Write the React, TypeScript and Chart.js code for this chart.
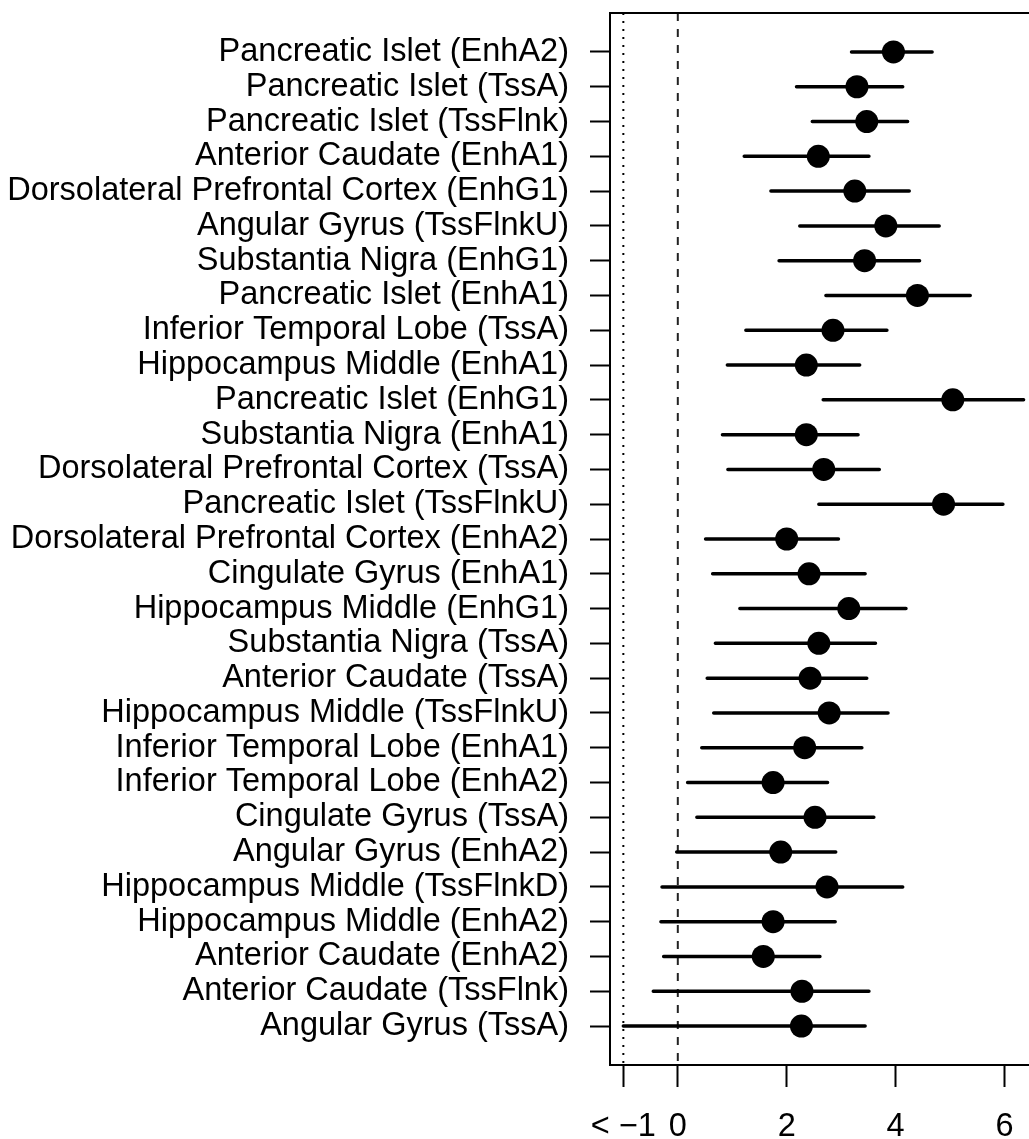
import React, { useEffect, useRef } from "react";
import { Chart, registerables } from "chart.js";

Chart.register(...registerables);

const labels: string[] = [
  "Pancreatic Islet (EnhA2)",
  "Pancreatic Islet (TssA)",
  "Pancreatic Islet (TssFlnk)",
  "Anterior Caudate (EnhA1)",
  "Dorsolateral Prefrontal Cortex (EnhG1)",
  "Angular Gyrus (TssFlnkU)",
  "Substantia Nigra (EnhG1)",
  "Pancreatic Islet (EnhA1)",
  "Inferior Temporal Lobe (TssA)",
  "Hippocampus Middle (EnhA1)",
  "Pancreatic Islet (EnhG1)",
  "Substantia Nigra (EnhA1)",
  "Dorsolateral Prefrontal Cortex (TssA)",
  "Pancreatic Islet (TssFlnkU)",
  "Dorsolateral Prefrontal Cortex (EnhA2)",
  "Cingulate Gyrus (EnhA1)",
  "Hippocampus Middle (EnhG1)",
  "Substantia Nigra (TssA)",
  "Anterior Caudate (TssA)",
  "Hippocampus Middle (TssFlnkU)",
  "Inferior Temporal Lobe (EnhA1)",
  "Inferior Temporal Lobe (EnhA2)",
  "Cingulate Gyrus (TssA)",
  "Angular Gyrus (EnhA2)",
  "Hippocampus Middle (TssFlnkD)",
  "Hippocampus Middle (EnhA2)",
  "Anterior Caudate (EnhA2)",
  "Anterior Caudate (TssFlnk)",
  "Angular Gyrus (TssA)",
];

const estimate: number[] = [
  3.96, 3.29, 3.47, 2.58, 3.25, 3.82, 3.43, 4.4, 2.85, 2.36,
  5.05, 2.36, 2.68, 4.88, 2.0, 2.41, 3.14, 2.59, 2.43, 2.78,
  2.33, 1.75, 2.52, 1.89, 2.74, 1.75, 1.57, 2.28, 2.27,
];

const lower: number[] = [
  3.19, 2.18, 2.47, 1.22, 1.71, 2.24, 1.86, 2.72, 1.25, 0.91,
  2.67, 0.82, 0.92, 2.59, 0.51, 0.64, 1.14, 0.69, 0.54, 0.66,
  0.44, 0.18, 0.35, -0.02, -0.29, -0.31, -0.26, -0.45, -1.0,
];

const upper: number[] = [
  4.67, 4.13, 4.22, 3.51, 4.25, 4.8, 4.44, 5.37, 3.84, 3.34,
  6.35, 3.31, 3.7, 5.97, 2.95, 3.44, 4.19, 3.63, 3.47, 3.86,
  3.38, 2.75, 3.6, 2.9, 4.13, 2.89, 2.61, 3.51, 3.44,
];

const xTickValues: number[] = [-1, 0, 2, 4, 6];
const xTickLabels: string[] = ["< \u22121", "0", "2", "4", "6"];

const FONT = "'Liberation Sans', Arial, Helvetica, sans-serif";

export default function App() {
  const ref = useRef<HTMLCanvasElement | null>(null);

  useEffect(() => {
    if (!ref.current) return;
    const n = labels.length;
    const yMin = 1 - 0.04 * (n - 1);
    const yMax = n + 0.04 * (n - 1);

    const ciData: any[] = [];
    labels.forEach((_, i) => {
      ciData.push({ x: lower[i], y: i + 1 });
      ciData.push({ x: upper[i], y: i + 1 });
      ciData.push({ x: null, y: null });
    });

    const boxPlugin = {
      id: "box",
      afterDraw(chart: any) {
        const { ctx, chartArea } = chart;
        ctx.save();
        ctx.strokeStyle = "#000";
        ctx.lineWidth = 2;
        ctx.strokeRect(
          chartArea.left,
          chartArea.top,
          chartArea.right - chartArea.left,
          chartArea.bottom - chartArea.top
        );
        ctx.restore();
      },
    };

    const chart = new Chart(ref.current, {
      type: "scatter",
      data: {
        datasets: [
          {
            data: estimate.map((v, i) => ({ x: v, y: i + 1 })),
            pointRadius: 11.5,
            pointBackgroundColor: "#000",
            pointBorderWidth: 0,
            showLine: false,
            order: 0,
          },
          {
            data: ciData,
            showLine: true,
            spanGaps: false,
            borderColor: "#000",
            borderWidth: 3.5,
            borderCapStyle: "round",
            pointRadius: 0,
            order: 1,
          },
          {
            data: [
              { x: -1, y: yMin },
              { x: -1, y: yMax },
            ],
            showLine: true,
            borderColor: "#000",
            borderWidth: 2,
            borderDash: [2, 6],
            pointRadius: 0,
            order: 2,
          },
          {
            data: [
              { x: 0, y: yMin },
              { x: 0, y: yMax },
            ],
            showLine: true,
            borderColor: "#222",
            borderWidth: 2,
            borderDash: [8, 8],
            pointRadius: 0,
            order: 2,
          },
        ] as any,
      },
      options: {
        responsive: false,
        animation: false,
        events: [],
        layout: { padding: { top: 13, left: 0, right: 0, bottom: 0 } },
        plugins: {
          legend: { display: false },
          tooltip: { enabled: false },
        },
        scales: {
          x: {
            type: "linear",
            position: "bottom",
            min: -1.245,
            max: 6.532,
            afterBuildTicks: (scale: any) => {
              scale.ticks = xTickValues.map((v) => ({ value: v }));
            },
            afterFit: (scale: any) => {
              scale.height = 74;
              scale.paddingLeft = 0;
              scale.paddingRight = 0;
            },
            ticks: {
              autoSkip: false,
              maxRotation: 0,
              color: "#000",
              padding: 21,
              font: { family: FONT, size: 32.5 },
              callback: (v: any) => {
                const idx = xTickValues.indexOf(Number(v));
                return idx >= 0 ? xTickLabels[idx] : "";
              },
            },
            grid: {
              drawOnChartArea: false,
              drawTicks: true,
              tickLength: 22,
              tickWidth: 2,
              color: "#000",
            },
            border: { display: true, color: "#000", width: 2 },
          },
          y: {
            type: "linear",
            reverse: true,
            min: yMin,
            max: yMax,
            afterBuildTicks: (scale: any) => {
              scale.ticks = labels.map((_, i) => ({ value: i + 1 }));
            },
            afterFit: (scale: any) => {
              scale.width = 610;
              scale.paddingTop = 0;
              scale.paddingBottom = 0;
            },
            ticks: {
              autoSkip: false,
              color: "#000",
              padding: 21,
              font: { family: FONT, size: 32.5 },
              callback: (v: any) => labels[Number(v) - 1] ?? "",
            },
            grid: {
              drawOnChartArea: false,
              drawTicks: true,
              tickLength: 20,
              tickWidth: 2,
              color: "#000",
            },
            border: { display: true, color: "#000", width: 2 },
          },
        },
      },
      plugins: [boxPlugin],
    });

    return () => chart.destroy();
  }, []);

  return (
    <div
      style={{
        position: "fixed",
        left: 0,
        top: 0,
        width: 1029,
        height: 1139,
        overflow: "hidden",
        background: "#fff",
      }}
    >
      <canvas ref={ref} width={1045} height={1139} style={{ display: "block" }} />
    </div>
  );
}
